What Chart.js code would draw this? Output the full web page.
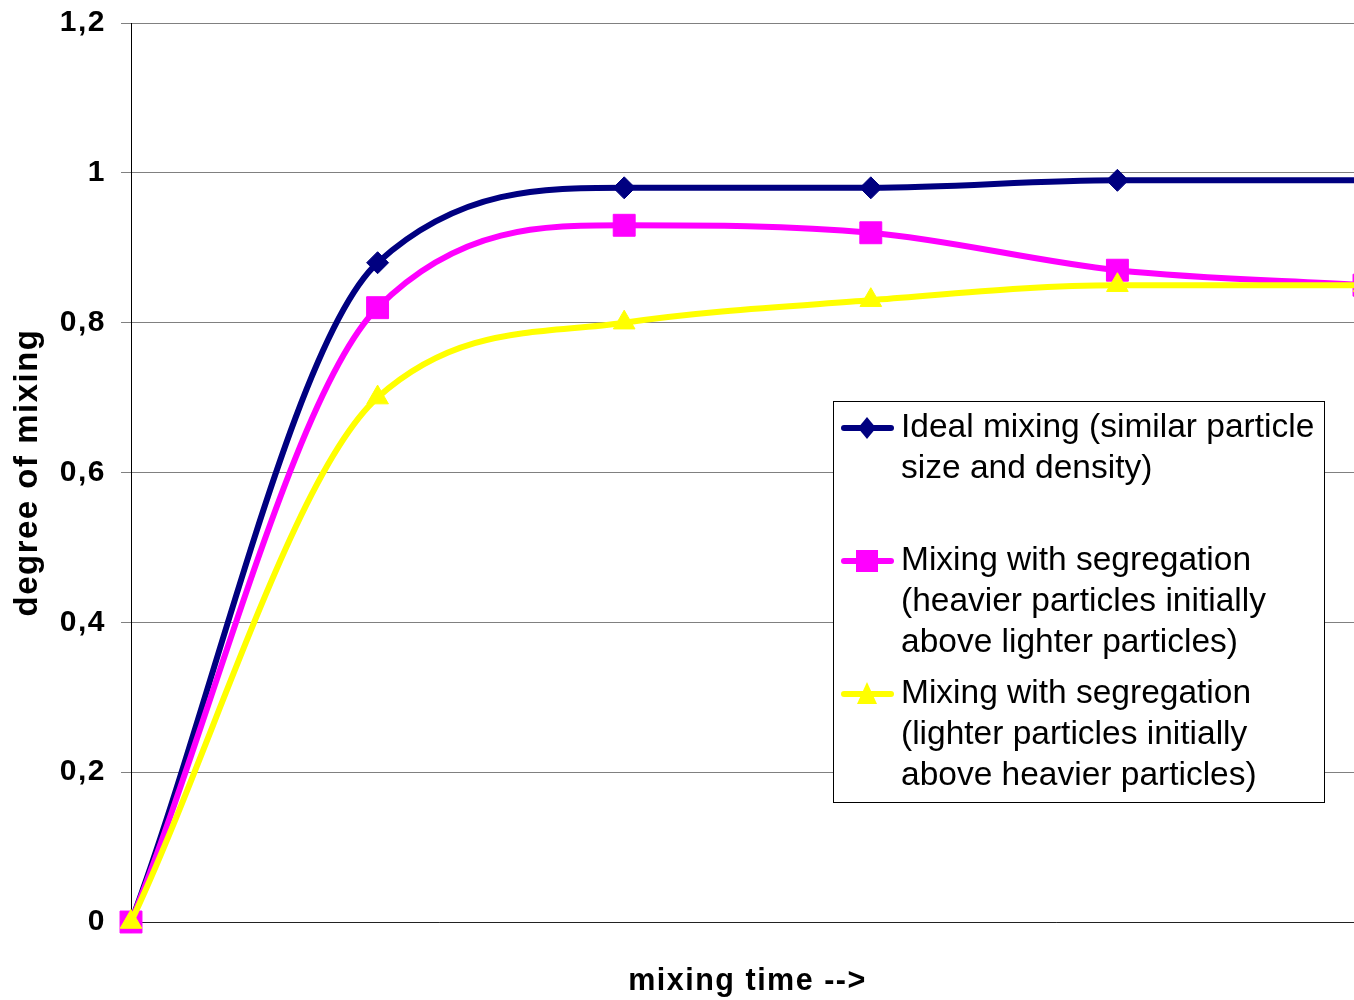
<!DOCTYPE html>
<html>
<head>
<meta charset="utf-8">
<title>degree of mixing</title>
<script src="https://cdn.jsdelivr.net/npm/chart.js@4"></script>
<style>
    html, body { margin: 0; padding: 0; background: #fff; overflow: hidden; }
    #wrap { width: 1364px; height: 1000px; }
</style>
</head>
<body>
<div id="wrap"><canvas id="mixChart" width="1364" height="1000"></canvas></div>
<script>
// ── Data ──────────────────────────────────────────────────
const times = ['0', '1', '2', '3', '4', '5'];

const idealMixing   = [0, 0.88, 0.98, 0.98, 0.99, 0.99];
const heavierAbove  = [0, 0.82, 0.93, 0.92, 0.87, 0.85];
const lighterAbove  = [0, 0.70, 0.80, 0.83, 0.85, 0.85];

const yTicks = [0, 0.2, 0.4, 0.6, 0.8, 1, 1.2];

const idealLabel   = ['Ideal mixing (similar particle', 'size and density)'];
const heavierLabel = ['Mixing with segregation', '(heavier particles initially', 'above lighter particles)'];
const lighterLabel = ['Mixing with segregation', '(lighter particles initially', 'above heavier particles)'];

const FONT = "'Liberation Sans', Arial, sans-serif";

// ── Legend marker shapes ──────────────────────────────────
function drawMarker(ctx, shape, x, y, color) {
    ctx.save();
    ctx.fillStyle = color;
    ctx.beginPath();
    if (shape === 'rectRot') {
        ctx.moveTo(x, y - 11);
        ctx.lineTo(x + 9, y);
        ctx.lineTo(x, y + 11);
        ctx.lineTo(x - 9, y);
    } else if (shape === 'rect') {
        ctx.rect(x - 11, y - 11, 22, 22);
    } else {
        ctx.moveTo(x, y - 12);
        ctx.lineTo(x + 10, y + 10);
        ctx.lineTo(x - 10, y + 10);
    }
    ctx.closePath();
    ctx.fill();
    ctx.restore();
}

// Excel text is a bit wider than Liberation Sans, so open it up slightly
const wideText = {
    id: 'wideText',
    beforeDraw(chart) {
        chart.ctx.letterSpacing = '1.5px';
    }
};

// ── Boxed legend drawn inside the plot, Excel style ───────
const boxLegend = {
    id: 'boxLegend',
    afterDraw(chart) {
        const ctx = chart.ctx;
        const left = 833, top = 401, width = 491, height = 401;
        const lineGap = 41, entryGap = 133;

        ctx.save();
        ctx.letterSpacing = '0px';
        ctx.fillStyle = '#fff';
        ctx.fillRect(left, top, width, height);
        ctx.strokeStyle = '#000';
        ctx.lineWidth = 1;
        ctx.strokeRect(left + 0.5, top + 0.5, width, height);

        ctx.font = '33.5px ' + FONT;
        ctx.fillStyle = '#000';
        ctx.textBaseline = 'middle';
        ctx.textAlign = 'left';

        chart.data.datasets.forEach((ds, i) => {
            const y = top + 27 + i * entryGap;
            ctx.strokeStyle = ds.borderColor;
            ctx.lineWidth = 6;
            ctx.lineCap = 'round';
            ctx.beginPath();
            ctx.moveTo(844, y);
            ctx.lineTo(891, y);
            ctx.stroke();
            drawMarker(ctx, ds.pointStyle, 867, y, ds.borderColor);

            ds.legendLines.forEach((line, j) => {
                ctx.fillText(line, 901, y + j * lineGap);
            });
        });
        ctx.restore();
    }
};

new Chart(document.getElementById('mixChart'), {
    type: 'line',
    data: {
        labels: times,
        datasets: [
            {
                label: idealLabel.join(' '),
                legendLines: idealLabel,
                data: idealMixing,
                borderColor: '#000080',
                backgroundColor: '#000080',
                pointStyle: 'rectRot',
                pointRadius: 11,
                order: 3
            },
            {
                label: heavierLabel.join(' '),
                legendLines: heavierLabel,
                data: heavierAbove,
                borderColor: '#ff00ff',
                backgroundColor: '#ff00ff',
                pointStyle: 'rect',
                pointRadius: 15.5,
                order: 2
            },
            {
                label: lighterLabel.join(' '),
                legendLines: lighterLabel,
                data: lighterAbove,
                borderColor: '#ffff00',
                backgroundColor: '#ffff00',
                pointStyle: 'triangle',
                pointRadius: 12.5,
                order: 1
            }
        ]
    },
    options: {
        responsive: false,
        animation: false,
        devicePixelRatio: 1,
        layout: { padding: { top: 23, left: 0, right: 0, bottom: 0 }, autoPadding: false },
        elements: {
            line: { borderWidth: 6, cubicInterpolationMode: 'monotone', fill: false },
            point: { borderWidth: 1, hoverRadius: 11 }
        },
        datasets: { line: { clip: false } },
        plugins: {
            legend: { display: false },
            tooltip: { enabled: false }
        },
        scales: {
            x: {
                ticks: { display: false },
                grid: { display: false, drawTicks: false },
                border: { display: true, color: '#222', width: 1 },
                title: {
                    display: true,
                    text: 'mixing time -->',
                    color: '#000',
                    font: { family: FONT, size: 30.5, weight: 'bold', lineHeight: 1.2 },
                    padding: { top: 0, bottom: 0 }
                },
                afterFit(scale) { scale.height = 78; }
            },
            y: {
                min: 0,
                max: 1.2,
                afterBuildTicks(scale) {
                    scale.ticks = yTicks.map(v => ({ value: v }));
                },
                ticks: {
                    color: '#000',
                    padding: 15,
                    font: { family: FONT, size: 30, weight: 'bold' },
                    callback: v => String(Math.round(v * 10) / 10).replace('.', ',')
                },
                grid: { color: '#808080', lineWidth: 1, tickLength: 10, drawTicks: true },
                border: { display: true, color: '#000', width: 1 },
                title: {
                    display: true,
                    text: 'degree of mixing',
                    color: '#000',
                    font: { family: FONT, size: 33, weight: 'bold', lineHeight: 1.2 },
                    padding: { top: 8, bottom: 0 }
                },
                afterFit(scale) {
                    scale.width = 131;
                    scale.paddingTop = 0;
                    scale.paddingBottom = 0;
                }
            }
        }
    },
    plugins: [wideText, boxLegend]
});
</script>
</body>
</html>
